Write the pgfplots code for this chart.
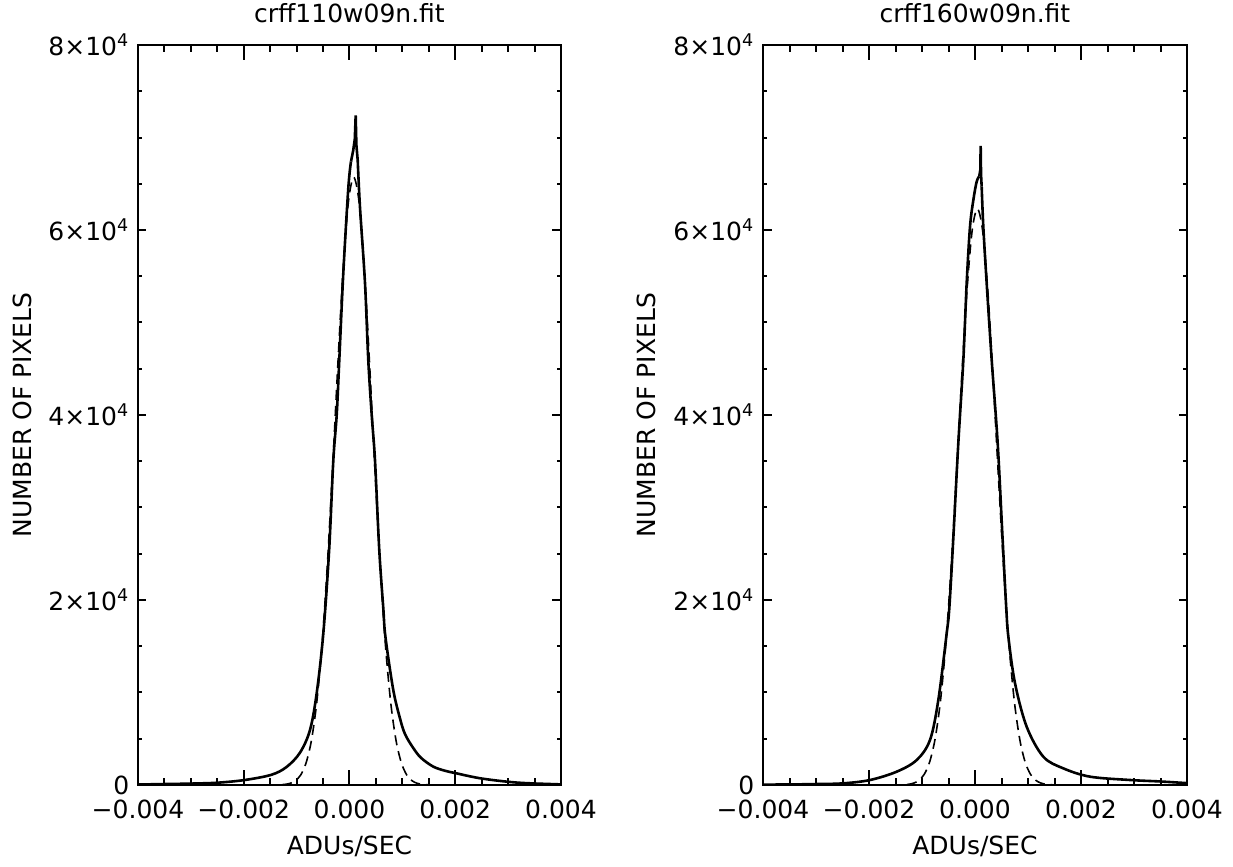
\documentclass[border=0pt]{standalone}
\usepackage{pgfplots}
\pgfplotsset{compat=1.18}
\usepackage{fontspec}
\setmainfont{DejaVu Sans}

\newcommand{\lblfont}{\fontsize{12.5}{15}\selectfont}
\pgfplotsset{idl/.style={
  scale only axis, height=370pt,
  xmin=-0.004, xmax=0.004, ymin=0, ymax=80000,
  xtick={-0.004,-0.002,0,0.002,0.004},
  xticklabels={\mbox{−0.004},\mbox{−0.002},\mbox{0.000},\mbox{0.002},\mbox{0.004}},
  ytick={0,20000,40000,60000,80000},
  yticklabels={\mbox{0},\mbox{2×10\textsuperscript{4}},\mbox{4×10\textsuperscript{4}},\mbox{6×10\textsuperscript{4}},\mbox{8×10\textsuperscript{4}}},
  every tick label/.append style={font=\lblfont},
  minor x tick num=3, minor y tick num=3,
  tick align=inside,
  axis line style={line width=1.4pt},
  every tick/.style={black, line width=1pt},
  xtick style={/pgfplots/major tick length=7.4pt,/pgfplots/minor tick length=3.7pt},
  ytick style={/pgfplots/major tick length=4.25pt,/pgfplots/minor tick length=2.1pt},
  scaled ticks=false,
  xlabel={ADUs/SEC}, ylabel={NUMBER OF PIXELS},
  label style={font=\lblfont}, title style={font=\lblfont},
  every axis x label/.style={at={(axis description cs:0.5,-0.0824)},anchor=center},
  every axis y label/.style={at={(axis description cs:-0.274,0.5)},rotate=90,anchor=center},
  every axis title/.style={at={(axis description cs:0.5,1.0432)},anchor=center},
  xticklabel style={yshift=-3pt},
  solid curve/.style={black, line width=1.3pt},
  dashed curve/.style={black, line width=0.8pt, dash pattern=on 5pt off 3pt},
}}

\begin{document}
\lblfont
\begin{tikzpicture}
\path[use as bounding box] (0,0) rectangle (616.5pt,433.5pt);

\begin{axis}[idl, width=211.5pt, at={(69pt,41pt)}, anchor=south west,
  title={crff110w09n.fit}]
\addplot[solid curve, smooth, tension=0.55] coordinates {
(-4.0e-3,50) (-3.62e-3,90) (-3.3e-3,120) (-2.94e-3,160) (-2.49e-3,250)
(-1.98e-3,540) (-1.48e-3,1100) (-1.19e-3,1950) (-0.936e-3,3500) (-0.747e-3,5950)
(-0.62e-3,9950) (-0.495e-3,16400) (-0.385e-3,25400) (-0.306e-3,35100) (-0.242e-3,40000)
(-0.193e-3,45950) (-0.117e-3,55350) (-0.023e-3,64500) (0.028e-3,67400)
};
\addplot[solid curve] coordinates {
(0.028e-3,67400) (0.07e-3,68600) (0.10e-3,69800) (0.117e-3,72400) (0.13e-3,69200) (0.155e-3,67570)
};
\addplot[solid curve, smooth, tension=0.55] coordinates {
(0.155e-3,67570) (0.198e-3,62500)
(0.293e-3,54270) (0.355e-3,45950) (0.42e-3,40000) (0.482e-3,35130) (0.563e-3,25400)
(0.639e-3,19130) (0.68e-3,16000) (0.828e-3,10270) (0.955e-3,7200) (1.05e-3,5500)
(1.2e-3,4050) (1.35e-3,2950) (1.58e-3,2000) (1.8e-3,1550) (2.03e-3,1250) (2.5e-3,700)
(3.17e-3,260) (3.92e-3,80) (4.0e-3,70)
};
\addplot[dashed curve, smooth] coordinates {
(-4.0e-3,0) (-2.0e-3,0) (-1.42e-3,7) (-1.32e-3,22) (-1.22e-3,66) (-1.12e-3,184)
(-1.02e-3,470) (-0.92e-3,1109) (-0.82e-3,2409) (-0.72e-3,4820) (-0.62e-3,8890)
(-0.52e-3,15120) (-0.42e-3,23680) (-0.32e-3,34200) (-0.22e-3,45500) (-0.12e-3,55800)
(-0.02e-3,63070) (0.08e-3,65700) (0.18e-3,63070) (0.28e-3,55800) (0.38e-3,45500)
(0.48e-3,34200) (0.58e-3,23680) (0.68e-3,15120) (0.78e-3,8890) (0.88e-3,4820)
(0.98e-3,2409) (1.08e-3,1109) (1.18e-3,470) (1.28e-3,184) (1.38e-3,66)
(1.48e-3,22) (1.58e-3,7) (2.0e-3,0) (4.0e-3,0)
};
\end{axis}

\begin{axis}[idl, width=212pt, at={(381.5pt,41pt)}, anchor=south west,
  title={crff160w09n.fit}]
\addplot[solid curve, smooth, tension=0.55] coordinates {
(-4.0e-3,40) (-3.5e-3,60) (-3.0e-3,100) (-2.485e-3,180) (-1.98e-3,540)
(-1.477e-3,1440) (-1.1e-3,2700) (-0.849e-3,4870) (-0.692e-3,9190) (-0.534e-3,16400)
(-0.485e-3,19100) (-0.409e-3,26700) (-0.315e-3,36940) (-0.22e-3,45950) (-0.157e-3,54270)
(-0.094e-3,60360) (-0.031e-3,63240) (0.031e-3,65220) (0.08e-3,65800)
};
\addplot[solid curve] coordinates {
(0.08e-3,65800) (0.1e-3,66500) (0.107e-3,69080) (0.114e-3,66000) (0.126e-3,64680)
};
\addplot[solid curve, smooth, tension=0.55] coordinates {
(0.126e-3,64680) (0.157e-3,60360) (0.22e-3,54270)
(0.315e-3,45950) (0.428e-3,36940) (0.52e-3,26700) (0.59e-3,19100) (0.63e-3,16000)
(0.755e-3,11000) (0.975e-3,6300) (1.289e-3,3060) (1.666e-3,1800) (2.17e-3,900)
(2.925e-3,540) (3.5e-3,380) (4.0e-3,200)
};
\addplot[dashed curve, smooth] coordinates {
(-4.0e-3,0) (-2.0e-3,0) (-1.455e-3,8) (-1.355e-3,26) (-1.255e-3,76) (-1.155e-3,206)
(-1.055e-3,512) (-0.955e-3,1177) (-0.855e-3,2503) (-0.755e-3,4916) (-0.655e-3,8915)
(-0.555e-3,14930) (-0.455e-3,23100) (-0.355e-3,33020) (-0.255e-3,43590) (-0.155e-3,53150)
(-0.055e-3,59880) (0.045e-3,62300) (0.145e-3,59880) (0.245e-3,53150) (0.345e-3,43590)
(0.445e-3,33020) (0.545e-3,23100) (0.645e-3,14930) (0.745e-3,8915) (0.845e-3,4916)
(0.945e-3,2503) (1.045e-3,1177) (1.145e-3,512) (1.245e-3,206) (1.345e-3,76)
(1.445e-3,26) (1.545e-3,8) (2.0e-3,0) (4.0e-3,0)
};
\end{axis}
\end{tikzpicture}
\end{document}
